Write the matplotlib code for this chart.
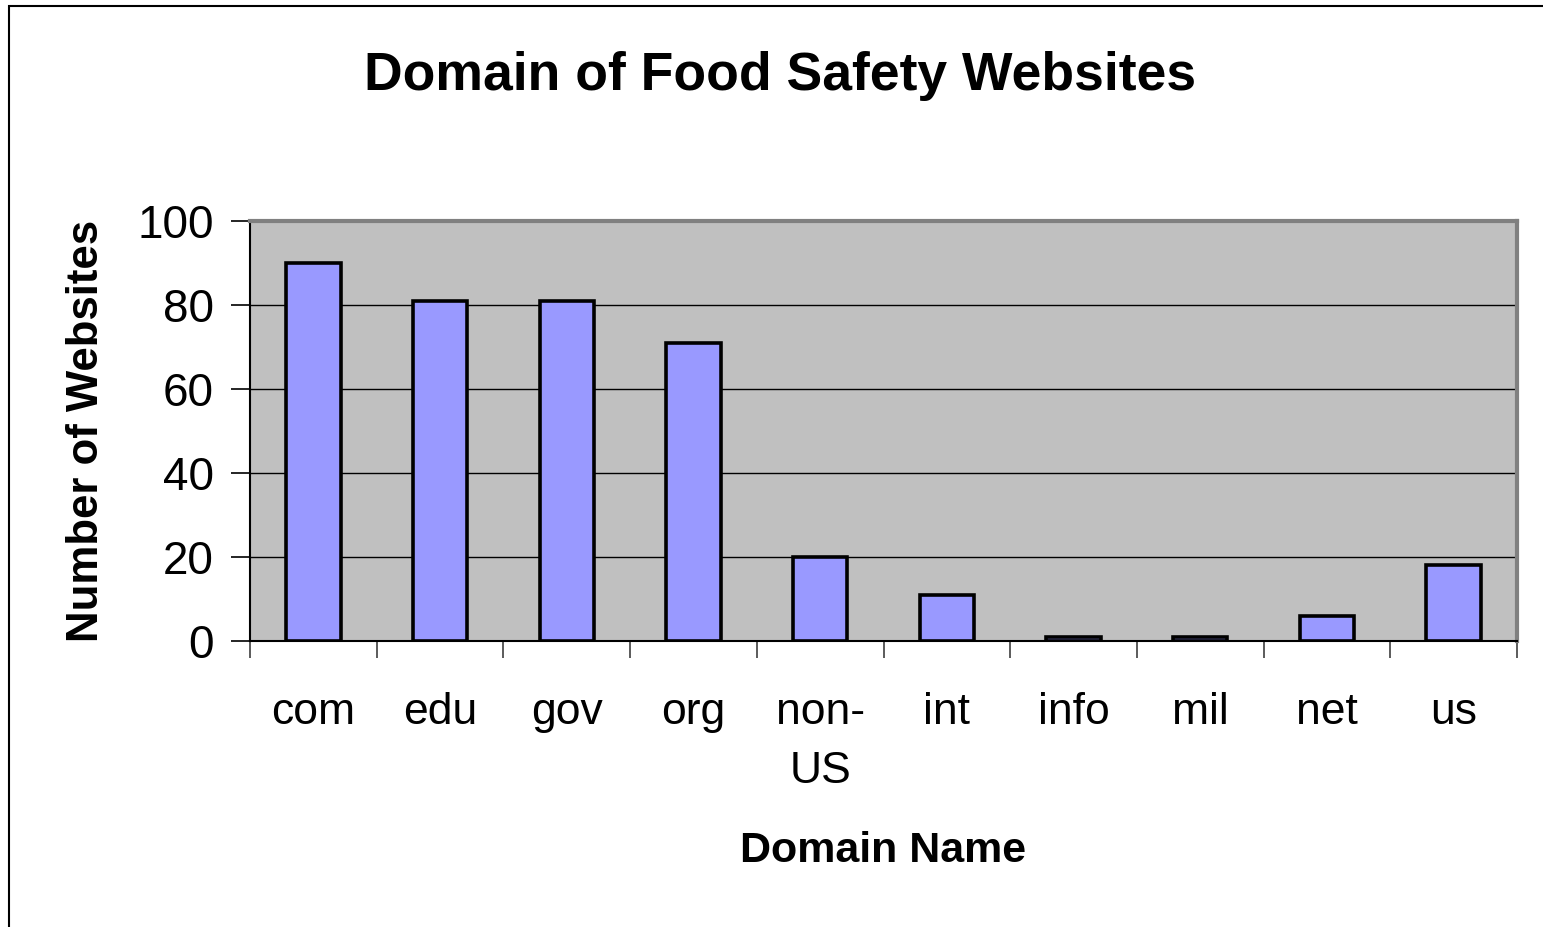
import matplotlib.pyplot as plt
import numpy as np
from matplotlib.patches import Rectangle

plt.rcParams['font.family'] = ['Liberation Sans', 'DejaVu Sans']

DOMAINS = ['com', 'edu', 'gov', 'org', 'non-\nUS', 'int', 'info', 'mil', 'net', 'us']
COUNTS = [90, 81, 81, 71, 20, 11, 1, 1, 6, 18]
Y_TICKS = [0, 20, 40, 60, 80, 100]

W, H = 1543, 927
fig = plt.figure(figsize=(W / 100, H / 100), dpi=100)
ax = fig.add_axes([250 / W, 1 - 641 / H, (1517 - 250) / W, (641 - 221) / H])

X = np.arange(len(DOMAINS))
ax.bar(X, COUNTS, width=0.43, color='#9999FF', edgecolor='black', linewidth=2.6, zorder=3)

ax.set_facecolor('#C0C0C0')
ax.set_xlim(-0.5, len(DOMAINS) - 0.5)
ax.set_ylim(0, 100)
ax.set_yticks(Y_TICKS)
ax.yaxis.grid(True, color='black', linewidth=1.0, zorder=1)
ax.set_axisbelow(True)

# category labels centred, ticks on the boundaries
ax.set_xticks(X)
ax.set_xticklabels(DOMAINS, fontsize=32, linespacing=1.55, va='top')
ax.tick_params(axis='x', which='major', length=0, pad=37)
ax.set_xticks(np.arange(-0.5, len(DOMAINS)), minor=True)
ax.tick_params(axis='x', which='minor', length=12, width=1.2, color='#404040', direction='out')
ax.tick_params(axis='y', labelsize=33, length=14, width=1.2, direction='out', pad=12)

for s in ['left', 'bottom']:
    ax.spines[s].set_color('black')
    ax.spines[s].set_linewidth(1.5)
for s in ['top', 'right']:
    ax.spines[s].set_color('#808080')
    ax.spines[s].set_linewidth(3)

ax.set_xlabel('Domain Name', fontsize=31, fontweight='bold', labelpad=28)
ax.set_ylabel('Number of Websites', fontsize=31.5, fontweight='bold', labelpad=22)
fig.text(780 / W, 1 - 76 / H, 'Domain of Food Safety Websites', fontsize=38.5,
         fontweight='bold', ha='center', va='center')

fig.patches.append(Rectangle((9 / W, -0.1), 1.2, 1 - 6 / H + 0.1, transform=fig.transFigure,
                             fill=False, edgecolor='black', linewidth=1.5))

fig.savefig('out.png', dpi=100)
